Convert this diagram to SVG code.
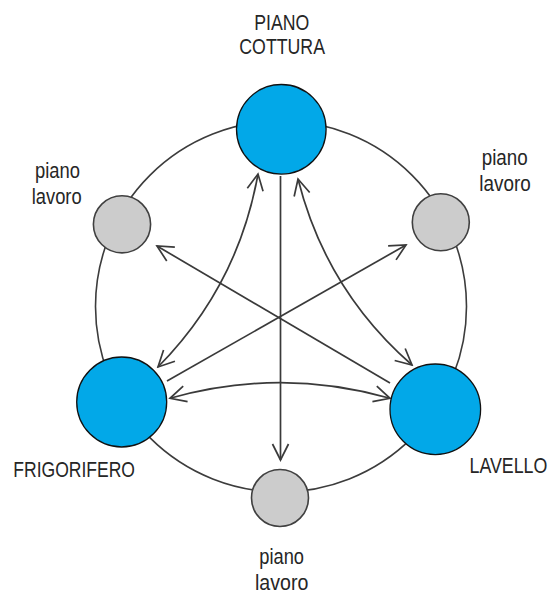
<svg xmlns="http://www.w3.org/2000/svg" width="554" height="595" viewBox="0 0 554 595">
<style>
.ring{fill:none;stroke:#3c3c3c;stroke-width:1.6}
.conn{fill:none;stroke:#3a3a3a;stroke-width:1.7}
.main{fill:#02a8e8;stroke:#111;stroke-width:1.3}
.work{fill:#cccccc;stroke:#404040;stroke-width:1.6}
.lbl{font-family:"Liberation Sans Narrow","Liberation Sans",Arial,sans-serif;font-size:22px;fill:#262626}
.lbw{font-family:"Liberation Sans",Arial,sans-serif;font-size:22px;fill:#262626}
</style>
<defs>
<marker id="ah" markerUnits="userSpaceOnUse" viewBox="-18 -10 20 20" markerWidth="20" markerHeight="20" refX="0" refY="0" orient="auto-start-reverse">
<path d="M-16,-8 L0,0 L-16,8" fill="none" stroke="#3a3a3a" stroke-width="1.7"/>
</marker>
</defs>
<rect width="554" height="595" fill="#ffffff"/>
<g id="ring"><circle class="ring" cx="281" cy="306.5" r="185.5"/></g>
<g id="connectors">
<line class="conn" x1="280.5" y1="176" x2="280.5" y2="460" marker-end="url(#ah)"/>
<path class="conn" d="M258,174 Q238,286 158,367" marker-start="url(#ah)" marker-end="url(#ah)"/>
<path class="conn" d="M298,179 Q326,290 412,365" marker-start="url(#ah)" marker-end="url(#ah)"/>
<path class="conn" d="M170,398.3 Q280,367 390,398.3" marker-start="url(#ah)" marker-end="url(#ah)"/>
<line class="conn" x1="167" y1="381" x2="406" y2="245" marker-end="url(#ah)"/>
<line class="conn" x1="390" y1="383" x2="157" y2="246" marker-end="url(#ah)"/>
</g>
<g id="piano-cottura">
<circle class="main" cx="281.3" cy="129.3" r="44.8"/>
<text class="lbl" x="254.3" y="30" textLength="55" lengthAdjust="spacingAndGlyphs">PIANO</text>
<text class="lbl" x="239.3" y="54.3" textLength="85.7" lengthAdjust="spacingAndGlyphs">COTTURA</text>
</g>
<g id="frigorifero">
<circle class="main" cx="121.7" cy="402" r="45"/>
<text class="lbl" x="13.3" y="476.7" textLength="121.7" lengthAdjust="spacingAndGlyphs">FRIGORIFERO</text>
</g>
<g id="lavello">
<circle class="main" cx="435.3" cy="409.3" r="45.3"/>
<text class="lbw" transform="translate(469.5,472.7) scale(0.81,1)" x="0" y="0">LAVELLO</text>
</g>
<g id="piano-lavoro-sx">
<circle class="work" cx="122" cy="224.3" r="28.6"/>
<text class="lbl" x="35" y="178" textLength="45" lengthAdjust="spacingAndGlyphs">piano</text>
<text class="lbl" x="31.7" y="204" textLength="50" lengthAdjust="spacingAndGlyphs">lavoro</text>
</g>
<g id="piano-lavoro-dx">
<circle class="work" cx="440.8" cy="222.3" r="28.5"/>
<text class="lbl" x="481.7" y="165" textLength="46" lengthAdjust="spacingAndGlyphs">piano</text>
<text class="lbl" x="479.3" y="191" textLength="51.4" lengthAdjust="spacingAndGlyphs">lavoro</text>
</g>
<g id="piano-lavoro-basso">
<circle class="work" cx="280" cy="498" r="28.5"/>
<text class="lbl" x="259.3" y="564" textLength="44.7" lengthAdjust="spacingAndGlyphs">piano</text>
<text class="lbl" x="255" y="590" textLength="53.3" lengthAdjust="spacingAndGlyphs">lavoro</text>
</g>
</svg>
